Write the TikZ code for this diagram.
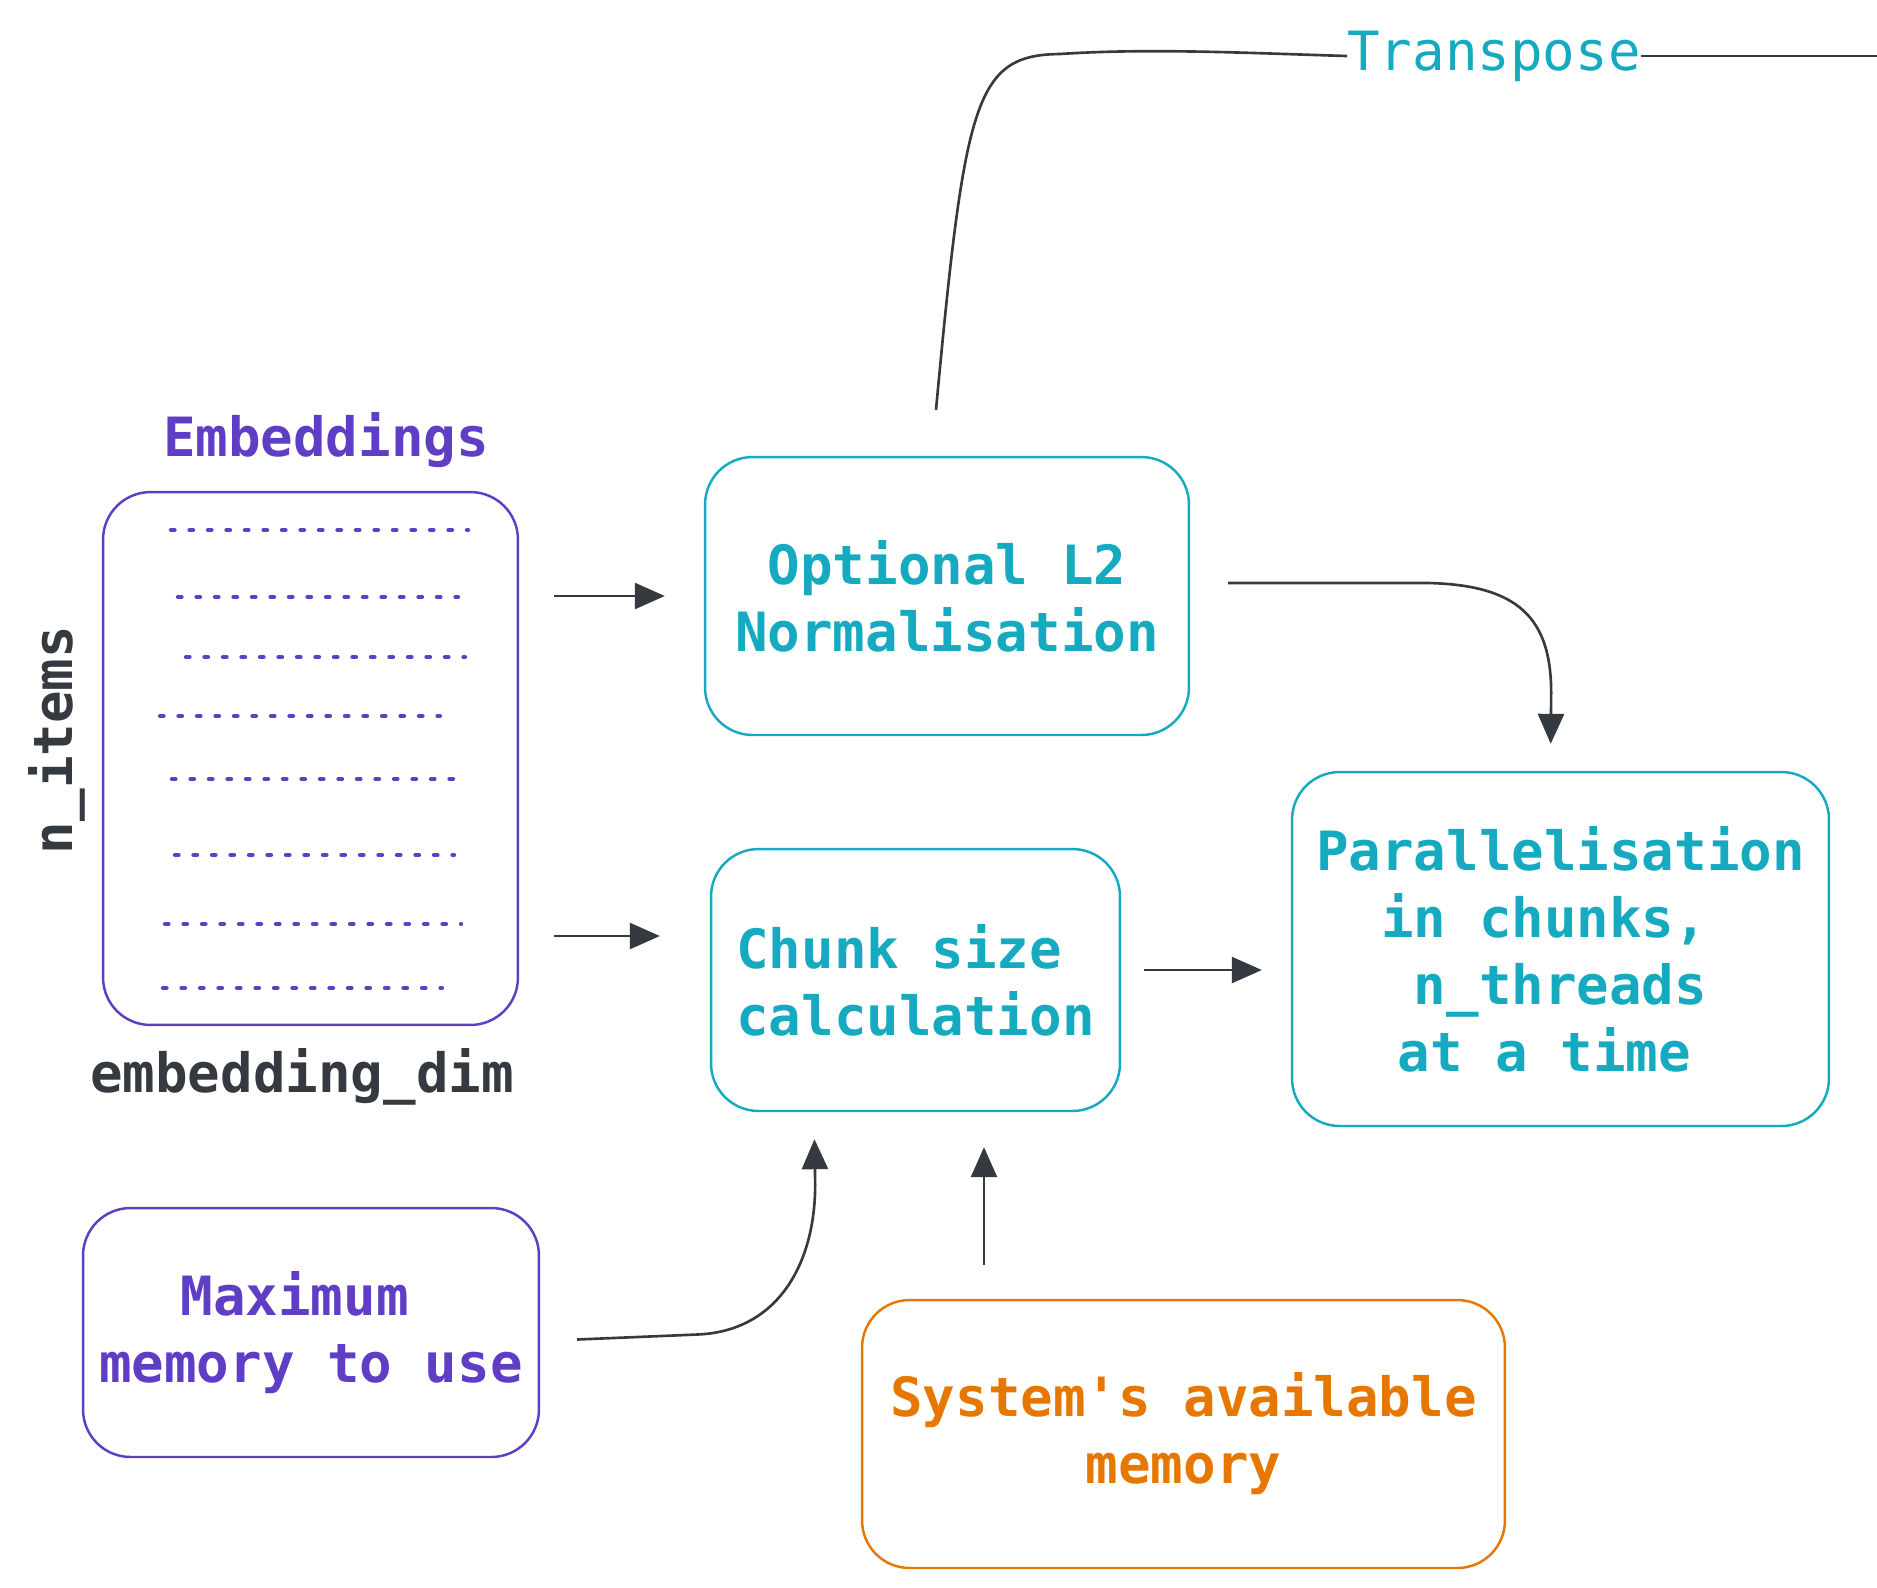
\documentclass[tikz,border=0pt]{standalone}
\usepackage{fontspec}
\setmonofont{DejaVu Sans Mono}
\usetikzlibrary{arrows.meta}
\definecolor{violetink}{HTML}{5F3DC4}
\definecolor{cyanink}{HTML}{15AABF}
\definecolor{orangeink}{HTML}{E67700}
\definecolor{darkink}{HTML}{343A40}
\newcommand{\boxfont}{\ttfamily\bfseries\fontsize{30.8pt}{38.1pt}\selectfont}
\newcommand{\linkfont}{\ttfamily\fontsize{30.8pt}{38.1pt}\selectfont}
\tikzset{
    box/.style={draw, rectangle, rounded corners=0.95cm, line width=1.4pt, align=center, font=\boxfont},
    dotrow/.style={draw=violetink, line width=0.085cm, line cap=round, dash pattern=on 0.07cm off 0.3cm},
    arr/.style={draw=darkink, line width=1.5pt, -{Triangle[length=0.6cm, width=0.52cm]}},
    link/.style={draw=darkink, line width=1.5pt}
}
\begin{document}
\begin{tikzpicture}[x=0.02cm, y=-0.02cm]
    \useasboundingbox (0,0) rectangle (1877,1587);

    % embeddings matrix
    \node[text=violetink, font=\boxfont] (embtitle) at (326,440) {Embeddings};
    \node[box, draw=violetink, minimum width=8.3cm, minimum height=10.66cm] (emb) at (310.5,758.5) {};
    \foreach \xa/\xb/\y in {171/468/530, 178/458/597, 186/465/657, 160/440/716,
                            172/467/779, 175/454/855, 165/461/924, 163/442/988}
        \draw[dotrow] (\xa,\y) -- (\xb,\y);
    \node[text=darkink, font=\boxfont] (embdim) at (302,1077) {embedding\_dim};
    \node[text=darkink, font=\boxfont, rotate=90] (nitems) at (57,740) {n\_items};

    % processing steps
    \node[box, draw=cyanink, text=cyanink, minimum width=9.68cm, minimum height=5.56cm] (norm) at (947,596)
        {Optional L2\\Normalisation};
    \node[box, draw=cyanink, text=cyanink, align=left, minimum width=8.18cm, minimum height=5.24cm] (chunk) at (915.5,980)
        {Chunk size\\calculation};
    \node[box, draw=cyanink, text=cyanink, minimum width=10.74cm, minimum height=7.08cm] (para) at (1560.5,949)
        {Parallelisation\\in chunks,\phantom{x}\\\phantom{x}n\_threads\phantom{x}\\at a time\phantom{x}};

    % memory inputs
    \node[box, draw=violetink, text=violetink, minimum width=9.12cm, minimum height=4.98cm] (maxmem) at (311,1332.5)
        {Maximum\phantom{x}\\memory to use};
    \node[box, draw=orangeink, text=orangeink, minimum width=12.86cm, minimum height=5.36cm] (sysmem) at (1183.5,1434)
        {System's available\\memory};

    \node[text=cyanink, font=\linkfont, inner sep=0pt] (transp) at (1494,56) {Transpose};

    % connectors
    \draw[arr, shorten <=0.7cm, shorten >=0.78cm] (emb.east |- norm.west) -- (norm.west);
    \draw[arr, shorten <=0.7cm, shorten >=1.0cm] ([yshift=0.88cm]chunk.west -| emb.east) -- ([yshift=0.88cm]chunk.west);
    \draw[arr, shorten >=0.54cm] ([xshift=0.76cm, yshift=0.26cm]norm.east) -- ++(200,0)
        .. controls +(90,2) and +(0,-75) .. ++(123,110) -- ([xshift=-0.2cm]para.north);
    \draw[arr, shorten <=0.46cm, shorten >=0.58cm] ([yshift=0.2cm]chunk.east) -- ([yshift=0.2cm]chunk.east -| para.west);
    \draw[arr, shorten >=0.54cm] ([xshift=0.74cm, yshift=-0.14cm]maxmem.east) -- ++(120,-5)
        .. controls +(80,-3) and +(0,80) .. ++(118,-150) -- ([xshift=-2.03cm]chunk.south);
    \coordinate (sysin) at ([xshift=1.37cm]chunk.south);
    \draw[arr, shorten <=0.68cm, shorten >=0.7cm] (sysin |- sysmem.north) -- (sysin);
    \coordinate (tstart) at ([xshift=-0.22cm, yshift=0.92cm]norm.north);
    \coordinate (tend) at (1877,56);
    \draw[link] (tstart) .. controls +(29,-311) and +(-85,1) .. (1060,54)
        .. controls +(90,-6) and +(-100,-3) .. (transp.west);
    \draw[link] (transp.east) -- (tend);
\end{tikzpicture}
\end{document}
